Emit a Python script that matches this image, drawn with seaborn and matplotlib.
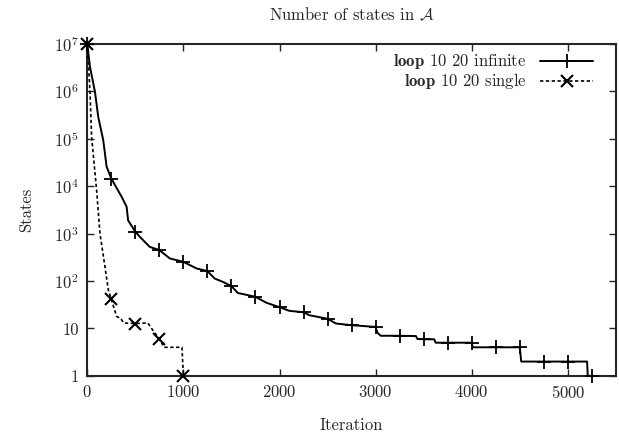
import numpy as np
import pandas as pd
import seaborn as sns
import matplotlib.pyplot as plt
from matplotlib.lines import Line2D

# data (iteration, number of states)
inf_iter = [0, 28, 80, 114, 166, 201, 250, 357, 409, 425, 500, 547, 650, 750, 858,
            1000, 1135, 1250, 1325, 1411, 1500, 1566, 1750, 1861, 2000, 2103, 2250,
            2310, 2500, 2587, 2750, 2990, 3000, 3019, 3054, 3250, 3420, 3434, 3500,
            3610, 3624, 3750, 4000, 4010, 4250, 4500, 4515, 4750, 5000, 5200, 5207, 5250]
inf_vals = [1e7, 3.3e6, 9.8e5, 2.9e5, 9.4e4, 2.6e4, 1.45e4, 6000, 3700, 1900, 1100, 855, 525, 450, 300,
            254, 185, 162, 113, 96, 78, 56, 46.5, 35, 28, 23.5, 22,
            19, 16, 12.7, 11.7, 10.8, 10.5, 8.1, 7.0, 7.0, 6.9, 6.0, 5.9,
            5.9, 5.0, 5.0, 5.0, 4.0, 4.0, 4.0, 2.0, 2.0, 2.0, 2.0, 1.0, 1.0]

single_iter = [0, 28, 45, 97, 132, 184, 219, 250, 305, 350, 380, 500, 630, 685, 750, 800, 985, 1000]
single_vals = [1e7, 1e6, 1.1e5, 8300, 1000, 200, 65, 41, 18, 16, 13, 12.7, 13, 9, 6, 4, 4, 1]

series_names = [r'$\mathbf{loop}$ 10 20 infinite', r'$\mathbf{loop}$ 10 20 single']

xticks = [0, 1000, 2000, 3000, 4000, 5000]
yticks = [1, 10, 1e2, 1e3, 1e4, 1e5, 1e6, 1e7]
ytick_labels = ['1', '10', '$10^{2}$', '$10^{3}$', '$10^{4}$', '$10^{5}$', '$10^{6}$', '$10^{7}$']

df_inf = pd.DataFrame({'iter': inf_iter, 'states': inf_vals})
df_single = pd.DataFrame({'iter': single_iter, 'states': single_vals})

sns.set_style('ticks')
plt.rcParams['font.family'] = ['cmr10', 'DejaVu Serif']
plt.rcParams['mathtext.fontset'] = 'cm'
plt.rcParams['axes.formatter.use_mathtext'] = True
plt.rcParams['font.size'] = 12

fig = plt.figure(figsize=(6.19, 4.36), dpi=100)
ax = fig.add_axes([0.141, 0.138, 0.854, 0.761])

mk_inf = [i for i, it in enumerate(inf_iter) if it % 250 == 0]
mk_single = [i for i, it in enumerate(single_iter) if it % 250 == 0]

sns.lineplot(data=df_inf, x='iter', y='states', ax=ax, color='black', lw=1.4,
             marker='+', markersize=10, markeredgewidth=1.3, markeredgecolor='black',
             markevery=mk_inf, estimator=None, sort=False, clip_on=False, zorder=3)
sns.lineplot(data=df_single, x='iter', y='states', ax=ax, color='black', lw=1.2,
             linestyle=(0, (2, 1.5)), marker='x', markersize=9, markeredgewidth=1.5,
             markeredgecolor='black', markevery=mk_single, estimator=None, sort=False,
             clip_on=False, zorder=3)

ax.set_yscale('log')
ax.set_xlim(0, 5500)
ax.set_ylim(1, 1e7)
ax.set_xticks(xticks)
ax.set_yticks(yticks)
ax.set_yticklabels(ytick_labels)
ax.minorticks_off()
ax.tick_params(direction='in', length=5, width=1, top=True, right=True, labelsize=12, pad=6)
for s in ax.spines.values():
    s.set_linewidth(1.5)

ax.set_xlabel('Iteration', fontsize=12, labelpad=12)
ax.set_ylabel('States', fontsize=12, labelpad=14)
ax.set_title(r'Number of states in $\mathcal{A}$', fontsize=12, pad=17)

handles = [
    Line2D([], [], color='black', lw=1.4, marker='+', markersize=10, markeredgewidth=1.3),
    Line2D([], [], color='black', lw=1.2, linestyle=(0, (2, 1.5)), marker='x', markersize=9, markeredgewidth=1.5),
]
ax.legend(handles, series_names, loc='upper right', bbox_to_anchor=(0.97, 0.995),
          frameon=False, markerfirst=False, handlelength=3.2, fontsize=12,
          borderaxespad=0, labelspacing=0.0, handletextpad=0.8)

fig.savefig('out.png', dpi=100)
